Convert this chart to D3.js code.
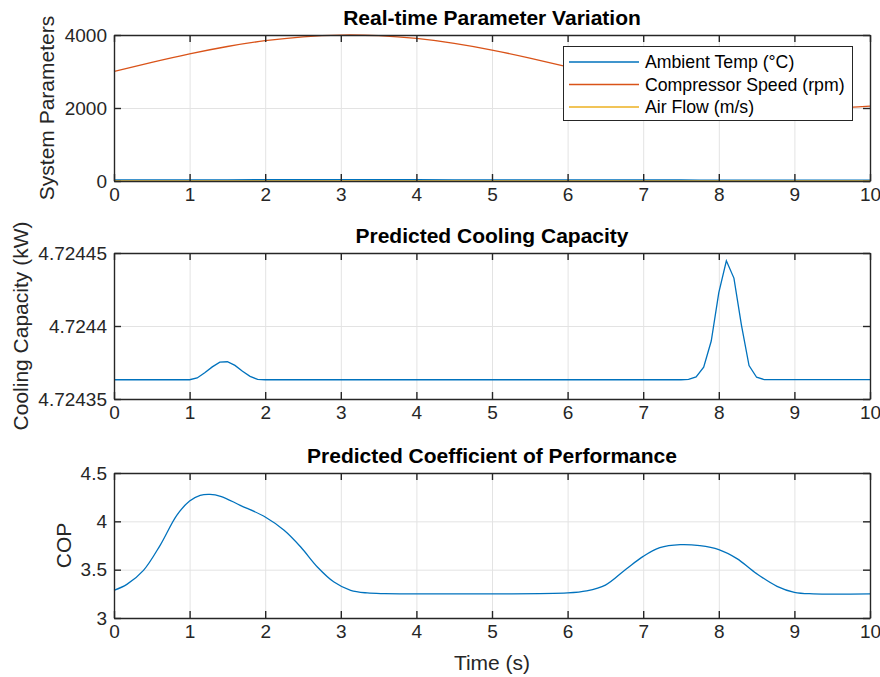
<!DOCTYPE html>
<html>
<head>
<meta charset="utf-8">
<script src="https://cdn.jsdelivr.net/npm/d3@7"></script>
<style>
  body { margin: 0; background: #fff; }
  svg { font-family: "Liberation Sans", Arial, sans-serif; }
</style>
</head>
<body>
<div id="chart"></div>
<script>
const width = 880;
const height = 677;
const colors = ["#0072BD", "#D95319", "#EDB120"];

// top panel: sampled every 0.5 s
const timeTop = [0, 0.5, 1, 1.5, 2, 2.5, 3, 3.5, 4, 4.5, 5, 5.5, 6, 6.5, 7, 7.5, 8, 8.5, 9, 9.5, 10];
const compressorSpeed = [3000, 3249, 3482, 3685, 3844, 3951, 3998, 3982, 3905, 3771, 3588, 3368, 3125, 2875, 2632, 2412, 2229, 2095, 2018, 2002, 2049];
const ambientTemp = [30, 31, 32, 33, 34, 34.5, 35, 34.8, 34, 33, 32, 31, 30, 29, 28, 27, 26, 25.5, 25, 25.2, 26];
const airFlow = [2.5, 2.6, 2.7, 2.8, 2.9, 3, 3, 2.9, 2.8, 2.7, 2.5, 2.3, 2.2, 2.1, 2, 2, 2.1, 2.2, 2.3, 2.4, 2.5];
const legendLabels = ["Ambient Temp (°C)", "Compressor Speed (rpm)", "Air Flow (m/s)"];

// middle panel: cooling capacity (kW)
const capTime = [0, 1.0, 1.1, 1.2, 1.3, 1.4, 1.5, 1.6, 1.7, 1.8, 1.9, 2.0, 7.5, 7.6, 7.7, 7.8, 7.9, 8.0, 8.1, 8.2, 8.3, 8.4, 8.5, 8.6, 10];
const capValue = [4.7243632, 4.7243632, 4.7243644, 4.7243680, 4.7243720, 4.7243752, 4.7243755, 4.7243730, 4.7243690, 4.7243655, 4.7243634, 4.7243632,
  4.7243632, 4.7243634, 4.7243651, 4.7243718, 4.7243897, 4.7244229, 4.7244447, 4.7244328, 4.7244005, 4.7243729, 4.7243649, 4.7243633, 4.7243633];

// bottom panel: COP
const copTime = [0, 0.17, 0.39, 0.61, 0.83, 1.0, 1.14, 1.27, 1.41, 1.67, 2.0, 2.25, 2.47, 2.69, 2.91, 3.13, 3.35, 3.58, 4.0, 5.0,
  6.0, 6.25, 6.5, 6.78, 7.0, 7.22, 7.49, 7.75, 8.0, 8.24, 8.5, 8.77, 9.0, 9.25, 10];
const copValue = [3.286, 3.348, 3.493, 3.752, 4.062, 4.21, 4.269, 4.279, 4.259, 4.166, 4.045, 3.907, 3.734, 3.528, 3.372, 3.286, 3.259, 3.252, 3.25, 3.25,
  3.259, 3.28, 3.34, 3.51, 3.638, 3.728, 3.759, 3.748, 3.707, 3.614, 3.459, 3.328, 3.266, 3.25, 3.25];

const xTicks = [0, 1, 2, 3, 4, 5, 6, 7, 8, 9, 10];

const svg = d3.select("#chart").append("svg")
  .attr("width", width)
  .attr("height", height);

const x = d3.scaleLinear().domain([0, 10]).range([114, 870]);

const drawPanel = (p) => {
  const y = d3.scaleLinear().domain(p.domain).range([p.bottom, p.top]);
  const g = svg.append("g");

  // grid
  g.append("g")
    .attr("transform", `translate(0,${p.bottom})`)
    .call(d3.axisBottom(x).tickValues(xTicks).tickSize(-(p.bottom - p.top)).tickFormat(""))
    .call((s) => s.select(".domain").remove())
    .selectAll("line").attr("stroke", "#e3e3e3");
  g.append("g")
    .attr("transform", `translate(114,0)`)
    .call(d3.axisLeft(y).tickValues(p.ticks).tickSize(-756).tickFormat(""))
    .call((s) => s.select(".domain").remove())
    .selectAll("line").attr("stroke", "#e3e3e3");

  // lines
  p.series.forEach((s) => {
    const line = d3.line()
      .x((d) => x(d[0]))
      .y((d) => y(d[1]))
      .curve(s.curve);
    g.append("path")
      .datum(s.t.map((t, i) => [t, s.v[i]]))
      .attr("fill", "none")
      .attr("stroke", s.color)
      .attr("stroke-width", 1.3)
      .attr("d", line);
  });

  // axes, ticks inward on all four sides
  const fmt = (v) => p.labels[p.ticks.indexOf(v)];
  const axes = [
    [d3.axisBottom(x).tickValues(xTicks).tickFormat(d3.format("d")), `translate(0,${p.bottom})`],
    [d3.axisTop(x).tickValues(xTicks).tickFormat(""), `translate(0,${p.top})`],
    [d3.axisLeft(y).tickValues(p.ticks).tickFormat(fmt), `translate(114,0)`],
    [d3.axisRight(y).tickValues(p.ticks).tickFormat(""), `translate(870,0)`],
  ];
  axes.forEach(([ax, tr]) => {
    const a = g.append("g")
      .attr("transform", tr)
      .call(ax.tickSizeInner(-7).tickSizeOuter(0).tickPadding(7));
    a.select(".domain").attr("stroke", "#262626").attr("stroke-width", 1.4);
    a.selectAll("line").attr("stroke", "#262626").attr("stroke-width", 1.4);
    a.selectAll("text").attr("fill", "#262626").style("font-size", "19px")
      .style("font-family", "'Liberation Sans', Arial, sans-serif");
  });

  // title
  svg.append("text")
    .attr("x", 492)
    .attr("y", p.top - 17)
    .attr("dy", "0.35em")
    .attr("text-anchor", "middle")
    .style("font-size", "21px")
    .style("font-weight", "bold")
    .attr("fill", "#000")
    .text(p.title);

  // y label
  svg.append("text")
    .attr("transform", `translate(${p.ylabelX},${(p.top + p.bottom) / 2}) rotate(-90)`)
    .attr("dy", "0.35em")
    .attr("text-anchor", "middle")
    .style("font-size", "21px")
    .attr("fill", "#262626")
    .text(p.ylabel);

  return y;
};

drawPanel({
  top: 35, bottom: 181,
  domain: [0, 4000],
  ticks: [0, 2000, 4000],
  labels: ["0", "2000", "4000"],
  title: "Real-time Parameter Variation",
  ylabel: "System Parameters",
  ylabelX: 47,
  series: [
    { t: timeTop, v: ambientTemp, color: colors[0], curve: d3.curveNatural },
    { t: timeTop, v: compressorSpeed, color: colors[1], curve: d3.curveNatural },
    { t: timeTop, v: airFlow, color: colors[2], curve: d3.curveNatural },
  ],
});

// legend
const legend = svg.append("g");
legend.append("rect")
  .attr("x", 563.5).attr("y", 46.5)
  .attr("width", 289).attr("height", 74)
  .attr("fill", "#fff")
  .attr("stroke", "#262626")
  .attr("stroke-width", 1);
legendLabels.forEach((label, i) => {
  const ly = 62 + i * 22.5;
  legend.append("line")
    .attr("x1", 569).attr("x2", 639)
    .attr("y1", ly).attr("y2", ly)
    .attr("stroke", colors[i])
    .attr("stroke-width", 1.3);
  legend.append("text")
    .attr("x", 645).attr("y", ly)
    .attr("dy", "0.35em")
    .style("font-size", "17.7px")
    .attr("fill", "#000")
    .text(label);
});

drawPanel({
  top: 253, bottom: 399,
  domain: [4.72435, 4.72445],
  ticks: [4.72435, 4.7244, 4.72445],
  labels: ["4.72435", "4.7244", "4.72445"],
  title: "Predicted Cooling Capacity",
  ylabel: "Cooling Capacity (kW)",
  ylabelX: 21,
  series: [
    { t: capTime, v: capValue, color: colors[0], curve: d3.curveLinear },
  ],
});

drawPanel({
  top: 473, bottom: 618,
  domain: [3, 4.5],
  ticks: [3, 3.5, 4, 4.5],
  labels: ["3", "3.5", "4", "4.5"],
  title: "Predicted Coefficient of Performance",
  ylabel: "COP",
  ylabelX: 64,
  series: [
    { t: copTime, v: copValue, color: colors[0], curve: d3.curveCatmullRom.alpha(0.5) },
  ],
});

svg.append("text")
  .attr("x", 492)
  .attr("y", 663)
  .attr("dy", "0.35em")
  .attr("text-anchor", "middle")
  .style("font-size", "21px")
  .attr("fill", "#262626")
  .text("Time (s)");
</script>
</body>
</html>
